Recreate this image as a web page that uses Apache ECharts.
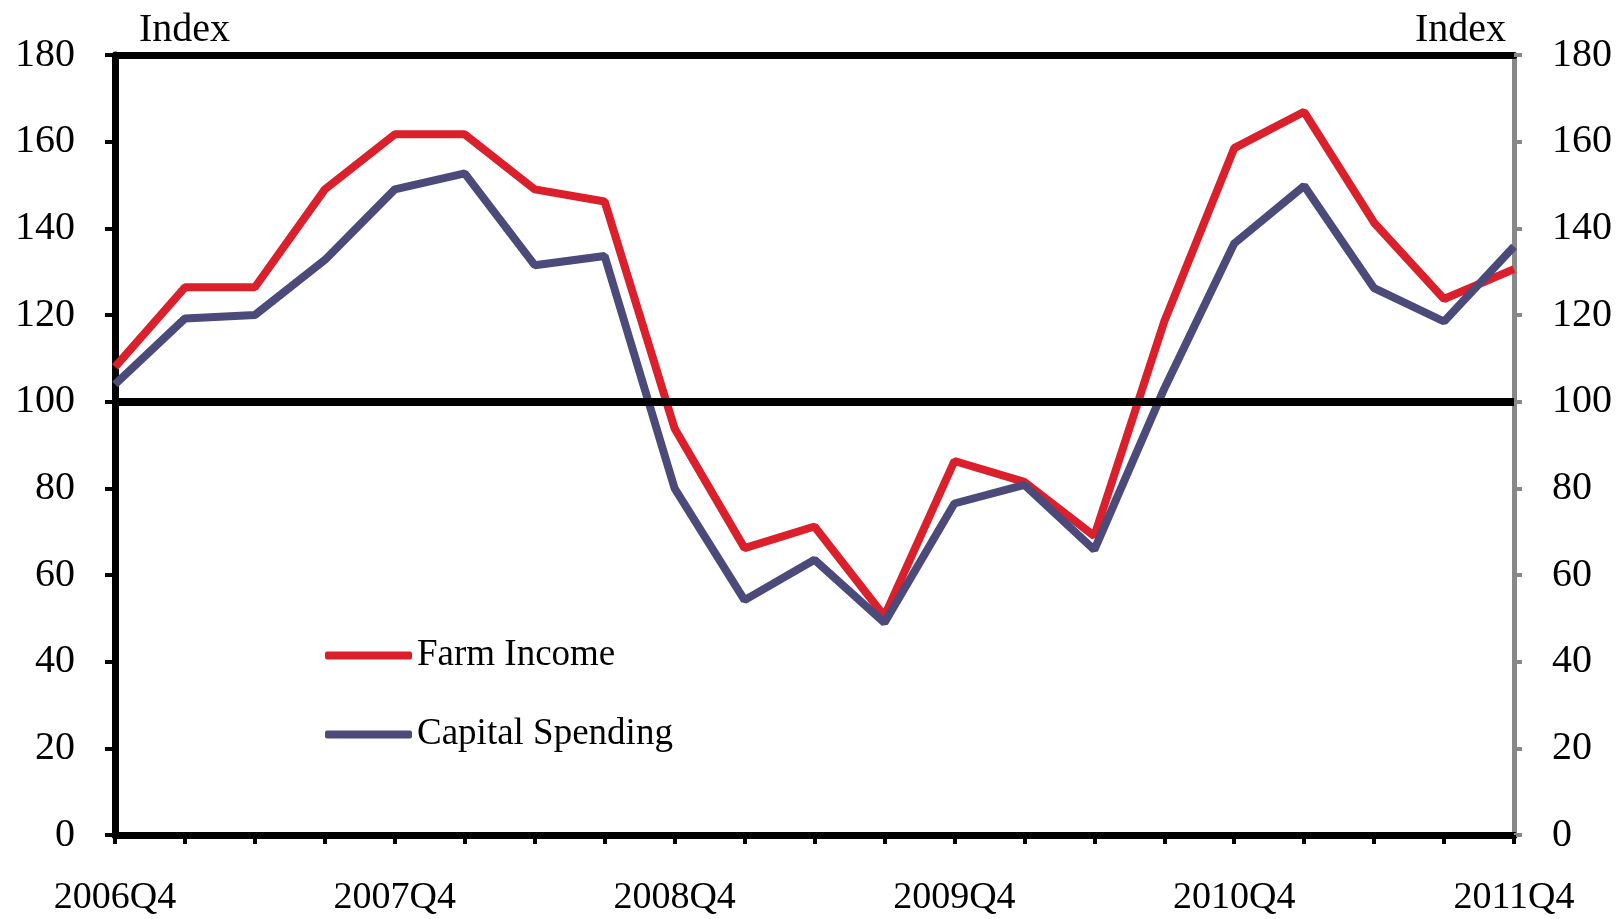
<!DOCTYPE html>
<html>
<head>
<meta charset="utf-8">
<script src="https://cdn.jsdelivr.net/npm/echarts@6/dist/echarts.min.js"></script>
<style>
  html, body { margin: 0; padding: 0; background: #fff; }
  #chart { width: 1623px; height: 919px; }
</style>
</head>
<body>
<div id="chart"></div>
<script>
  // quarters, 2006Q4 .. 2011Q4
  var quarters = ['2006Q4', '2007Q1', '2007Q2', '2007Q3', '2007Q4', '2008Q1', '2008Q2', '2008Q3',
    '2008Q4', '2009Q1', '2009Q2', '2009Q3', '2009Q4', '2010Q1', '2010Q2', '2010Q3',
    '2010Q4', '2011Q1', '2011Q2', '2011Q3', '2011Q4']
  var farmIncome = [108, 126.4, 126.4, 149, 161.7, 161.7, 149, 146.2, 93.8, 66.2, 71.2, 50.5,
    86.3, 81.5, 69, 118.5, 158.5, 166.9, 141.3, 123.7, 130.6]
  var capitalSpending = [104, 119.2, 120, 132.7, 149, 152.7, 131.5, 133.6, 80, 54.2, 63.5, 49,
    76.5, 80.8, 65.8, 103, 136.5, 149.8, 126.2, 118.5, 135.8]
  var seriesNames = ['Farm Income', 'Capital Spending']
  var yMin = 0, yMax = 180, yStep = 20
  var refValue = 100

  var font = '"Liberation Serif", "Times New Roman", serif'
  var colors = ['#db1f2b', '#4b4a7b']

  var chart = echarts.init(document.getElementById('chart'))
  chart.setOption({
    animation: false,
    color: colors,
    title: [
      { text: 'Index', left: 134, top: 5, textStyle: { fontFamily: font, fontSize: 40, fontWeight: 'normal', color: '#000' } },
      { text: 'Index', right: 112, top: 5, textStyle: { fontFamily: font, fontSize: 40, fontWeight: 'normal', color: '#000' } }
    ],
    grid: { left: 115, right: 109, top: 55, bottom: 84 },
    legend: {
      data: seriesNames,
      orient: 'vertical',
      left: 320,
      top: 632,
      itemWidth: 87,
      itemHeight: 8,
      itemGap: 42,
      icon: 'roundRect',
      textStyle: { fontFamily: font, fontSize: 37, color: '#000' }
    },
    xAxis: [
      {
        type: 'category',
        data: quarters,
        boundaryGap: false,
        position: 'bottom',
        axisLine: { onZero: false, lineStyle: { color: '#000', width: 7 } },
        axisTick: { show: true, interval: 0, length: 9, lineStyle: { color: '#000', width: 4 } },
        axisLabel: { interval: 3, margin: 44, fontFamily: font, fontSize: 38, color: '#000' },
        splitLine: { show: false }
      },
      {
        // top border of the frame
        type: 'category',
        data: quarters,
        boundaryGap: false,
        position: 'top',
        axisLine: { onZero: false, lineStyle: { color: '#000', width: 7 } },
        axisTick: { show: false },
        axisLabel: { show: false },
        splitLine: { show: false }
      }
    ],
    yAxis: [
      {
        type: 'value',
        position: 'left',
        min: yMin, max: yMax, interval: yStep,
        axisLine: { show: true, onZero: false, lineStyle: { color: '#000', width: 7 } },
        axisTick: { show: true, length: 10, lineStyle: { color: '#000', width: 4 } },
        axisLabel: { margin: 40, fontFamily: font, fontSize: 40, color: '#000' },
        splitLine: { show: false }
      },
      {
        type: 'value',
        position: 'right',
        min: yMin, max: yMax, interval: yStep,
        axisLine: { show: true, onZero: false, lineStyle: { color: '#888', width: 5 } },
        axisTick: { show: true, length: 8, lineStyle: { color: '#888', width: 4 } },
        axisLabel: { margin: 38, fontFamily: font, fontSize: 40, color: '#000' },
        splitLine: { show: false }
      }
    ],
    series: [
      {
        name: seriesNames[0],
        type: 'line',
        data: farmIncome,
        showSymbol: false,
        z: 2,
        lineStyle: { width: 8, color: colors[0] }
      },
      {
        name: seriesNames[1],
        type: 'line',
        data: capitalSpending,
        showSymbol: false,
        z: 3,
        lineStyle: { width: 8, color: colors[1] },
        markLine: {
          silent: true,
          symbol: 'none',
          label: { show: false },
          lineStyle: { color: '#000', width: 8, type: 'solid' },
          data: [{ yAxis: refValue }]
        }
      }
    ]
  })
</script>
</body>
</html>
